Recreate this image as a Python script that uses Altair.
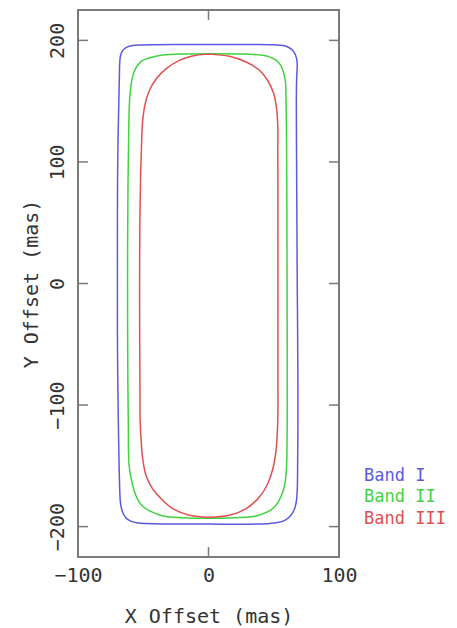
import altair as alt
import pandas as pd

bands = ["Band I", "Band II", "Band III"]
band_colors = ["#5a5ae0", "#3fd43f", "#e05050"]

band1_x = [0, -20, -40, -52, -58, -62.5, -65.5, -67.3, -68, -68.3, -68.7, -69.3, -69.7, -69.8, -69.8,
           -69.8, -69.5, -69, -68.5, -68, -67.5, -66, -63.5, -60, -55, -48, -30, -10, 10, 30, 45, 53,
           58.5, 62.5, 65.5, 67.2, 68, 68.3, 68.5, 68.5, 68.3, 68, 67.8, 67.6, 67.4, 67.3, 67.6, 68,
           67.5, 66, 63.5, 60, 55.7, 48, 30, 10, 0]
band1_y = [196.6, 196.6, 196.5, 196.3, 195.8, 194.5, 192, 188, 182, 170, 150, 120, 80, 40, 0,
           -40, -80, -120, -150, -170, -180, -187.5, -192.5, -195.3, -196.8, -197.5, -197.8, -197.8,
           -198, -198, -197.6, -196.7, -194.8, -191.5, -186.5, -180, -170, -150, -120, -80, -40, 0,
           40, 80, 120, 150, 170, 180, 185, 189.5, 192.8, 195, 196, 196.5, 196.6, 196.6, 196.6]

band2_x = [0, -20, -35, -44, -50.4, -54, -56.5, -58.2, -59.2, -60.5, -61.2, -61.7, -62, -62, -61.8,
           -61.4, -60.8, -58, -55.8, -52.9, -49.3, -45.2, -35, -20, 0, 20, 36.5, 46.7, 50.3, 53.1,
           56, 58.2, 59.6, 60.2, 60.3, 60.2, 60, 59.7, 59.4, 59.1, 58.3, 57, 55, 52, 47.5, 41.6, 25, 0]
band2_y = [189, 188.8, 187.9, 186, 183.6, 180, 175.4, 170, 164.5, 150, 120, 80, 30, -30, -80,
           -120, -150, -166.6, -174, -180.3, -184.3, -187.1, -191.2, -192.7, -193.2, -192.7, -191.2,
           -187.1, -184, -180.3, -174, -166.6, -155, -130, -80, 0, 80, 130, 150, 164.5, 170, 175.4,
           180, 183.6, 186, 187.7, 188.8, 189]

band3_x = [0, -9.4, -22.2, -32.4, -40, -45.2, -48.5, -50.4, -51.2, -52, -52.6, -52.8, -52.7, -52.5,
           -52.4, -51.7, -50.4, -47.9, -42.8, -36.4, -27.4, -14.6, 0, 16, 28.9, 39, 45.4, 49.3, 51.9,
           53.1, 53.2, 53.2, 53.2, 53.2, 53.2, 53.1, 53.1, 52, 49.9, 45.4, 39, 28.9, 16, 0]
band3_y = [188.7, 187.7, 183.6, 176.8, 168.4, 159, 148, 134.4, 118, 90, 50, 0, -50, -90, -111.5,
           -127.9, -144.2, -157.9, -168.9, -177, -185.2, -190.7, -192.2, -190.7, -185.2, -175.6,
           -164.7, -152.4, -136, -111.5, -80, -40, 0, 40, 80, 110, 129, 145.4, 156.3, 167, 175.4,
           182.2, 186.9, 188.7]

x_ticks = [-100, 0, 100]
y_ticks = [-200, -100, 0, 100, 200]

rows = []
for name, xs, ys in zip(bands, [band1_x, band2_x, band3_x], [band1_y, band2_y, band3_y]):
    for i, (xv, yv) in enumerate(zip(xs, ys)):
        rows.append({"band": name, "x": xv, "y": yv, "i": i})
df = pd.DataFrame(rows)

FONT = "DejaVu Sans Mono"
TXT = "#333333"
FRAME = "#7a7a7a"
W, H = 261, 547

xscale = alt.Scale(domain=[-100, 100], nice=False, zero=False)
yscale = alt.Scale(domain=[-225, 225], nice=False, zero=False)

label_color_expr = ("datum.label == 'Band I' ? '%s' : datum.label == 'Band II' ? '%s' : '%s'"
                    % tuple(band_colors))

lines = alt.Chart(df).mark_line(interpolate="catmull-rom", strokeWidth=1.5, clip=True).encode(
    x=alt.X("x:Q", scale=xscale, axis=alt.Axis(
        title="X Offset (mas)", values=x_ticks, ticks=False, domain=False, grid=False,
        labelFlush=False,
        labelFont=FONT, labelFontSize=20, labelColor=TXT, labelPadding=8,
        titleFont=FONT, titleFontSize=20, titleFontWeight="normal", titleColor=TXT, titlePadding=21)),
    y=alt.Y("y:Q", scale=yscale, axis=alt.Axis(
        title="Y Offset (mas)", values=y_ticks, ticks=False, domain=False, grid=False,
        labelFlush=False,
        labelFont=FONT, labelFontSize=20, labelColor=TXT, labelAngle=270, labelAlign="center",
        labelBaseline="bottom", labelPadding=11,
        titleFont=FONT, titleFontSize=20, titleFontWeight="normal", titleColor=TXT, titlePadding=6)),
    color=alt.Color("band:N", scale=alt.Scale(domain=bands, range=band_colors), legend=alt.Legend(
        title=None, orient="none", legendX=269, legendY=457, symbolSize=0, symbolOpacity=0,
        symbolStrokeWidth=0, labelOffset=0, padding=0, rowPadding=3.5, labelLimit=200,
        labelFont=FONT, labelFontSize=17, labelColor={"expr": label_color_expr})),
    order=alt.Order("i:Q"),
)

xt = pd.DataFrame({"v": x_ticks})
yt = pd.DataFrame({"v": y_ticks})
tick_style = dict(color=FRAME, strokeWidth=1.5)
xt_bottom = alt.Chart(xt).mark_rule(**tick_style).encode(
    x=alt.X("v:Q", scale=xscale), y=alt.value(H), y2=alt.value(H - 10))
xt_top = alt.Chart(xt).mark_rule(**tick_style).encode(
    x=alt.X("v:Q", scale=xscale), y=alt.value(0), y2=alt.value(10))
yt_left = alt.Chart(yt).mark_rule(**tick_style).encode(
    y=alt.Y("v:Q", scale=yscale), x=alt.value(0), x2=alt.value(10))
yt_right = alt.Chart(yt).mark_rule(**tick_style).encode(
    y=alt.Y("v:Q", scale=yscale), x=alt.value(W), x2=alt.value(W - 10))

chart = alt.layer(lines, xt_bottom, xt_top, yt_left, yt_right).properties(
    width=W, height=H,
    autosize=alt.AutoSizeParams(type="none"),
    padding={"left": 70, "top": 2, "right": 110, "bottom": 71},
    background="white",
).configure_view(stroke=FRAME, strokeWidth=2)

chart.save("out.html", embed_options={"renderer": "svg", "actions": False})
